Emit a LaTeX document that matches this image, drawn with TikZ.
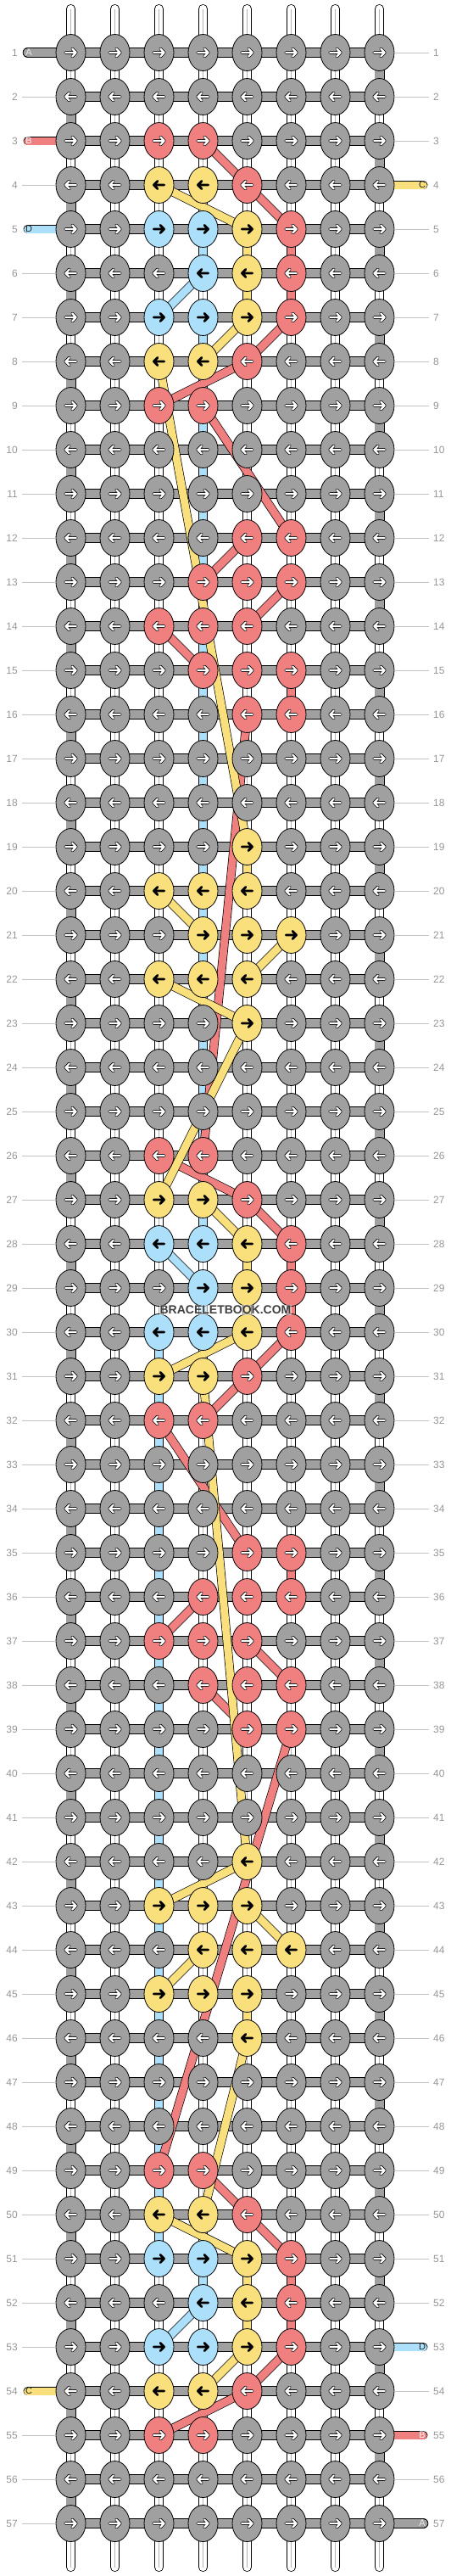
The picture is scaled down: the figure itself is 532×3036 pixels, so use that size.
\documentclass[tikz,border=0pt]{standalone}
\usepackage{fontspec}
\newfontfamily\lblfont{Liberation Sans}
\usetikzlibrary{shapes.geometric}

\definecolor{kgray}{RGB}{160,160,160}
\definecolor{kred}{RGB}{240,128,128}
\definecolor{kyel}{RGB}{250,224,124}
\definecolor{kblue}{RGB}{172,224,250}
\definecolor{lblgray}{RGB}{150,150,150}
\definecolor{linegray}{RGB}{195,195,195}

\pgfdeclarelayer{warps}
\pgfdeclarelayer{wefts}
\pgfdeclarelayer{threads}
\pgfsetlayers{warps,wefts,threads,main}

\tikzset{
 knot/.style={ellipse, draw=black, line width=0.8pt, minimum width=35pt, minimum height=43pt, inner sep=0pt},
 knotG/.style={knot, fill=kgray},
 knotR/.style={knot, fill=kred},
 knotY/.style={knot, fill=kyel},
 knotB/.style={knot, fill=kblue},
 arrG/.style={draw=black, double=white, line width=0.75pt, double distance=2.2pt, line cap=round, line join=round},
 arrR/.style={arrG},
 arrY/.style={draw=black, line width=2.8pt, line cap=round, line join=round},
 arrB/.style={arrY},
 warp/.style={draw=black, double=white, line width=0.8pt, double distance=9.4pt, line cap=round},
 warpmid/.style={draw=black!30, line width=0.6pt},
 weft/.style={draw=black, double=kgray, line width=0.8pt, double distance=10.4pt},
 redthread/.style={draw=black, double=kred, line width=0.7pt, double distance=9pt, line join=round},
 yelthread/.style={draw=black, double=kyel, line width=0.7pt, double distance=9pt, line join=round},
 bluthread/.style={draw=black, double=kblue, line width=0.7pt, double distance=9pt, line join=round},
 rowlbl/.style={font=\lblfont\fontsize{12}{14}\selectfont, text=lblgray, inner sep=0pt},
 rowline/.style={draw=linegray, line width=0.8pt},
 endlbl/.style={font=\lblfont\fontsize{11}{13}\selectfont, inner sep=0pt},
 wmark/.style={font=\lblfont\bfseries\fontsize{14}{16}\selectfont, text=black!75, fill=white, fill opacity=0.5, text opacity=1, inner sep=1pt}
}

\begin{document}
\begin{tikzpicture}[x=1pt, y=-1pt]
\useasboundingbox (0,0) rectangle (532,3036);

% colour of the knots: heart motif, red and yellow diamonds
\foreach \b in {3,26,49}{
  \foreach \d/\c/\k in {0/3/R,0/4/R,1/3/Y,1/4/Y,1/5/R,2/3/B,2/4/B,2/5/Y,2/6/R,3/4/B,3/5/Y,3/6/R,4/3/B,4/4/B,4/5/Y,4/6/R,5/3/Y,5/4/Y,5/5/R,6/3/R,6/4/R}{
    \pgfmathtruncatemacro{\rr}{\b+\d}
    \expandafter\xdef\csname kc-\rr-\c\endcsname{\k}
  }
}
\foreach \b in {12,35}{
  \foreach \d/\c in {0/5,0/6,1/4,1/5,1/6,2/3,2/4,2/5,3/4,3/5,3/6,4/5,4/6}{
    \pgfmathtruncatemacro{\rr}{\b+\d}
    \expandafter\xdef\csname kc-\rr-\c\endcsname{R}
  }
}
\foreach \b in {19,42}{
  \foreach \d/\c in {0/5,1/3,1/4,1/5,2/4,2/5,2/6,3/3,3/4,3/5,4/5}{
    \pgfmathtruncatemacro{\rr}{\b+\d}
    \expandafter\xdef\csname kc-\rr-\c\endcsname{Y}
  }
}

% knots with their arrows
\foreach \r in {1,...,57}{
  \foreach \c in {1,...,8}{
    \ifcsname kc-\r-\c\endcsname \edef\kk{\csname kc-\r-\c\endcsname}\else \def\kk{G}\fi
    \ifodd\r\relax \def\dr{1}\else \def\dr{-1}\fi
    \pgfmathsetmacro{\px}{83.5+52*(\c-1)}
    \pgfmathsetmacro{\py}{62+52*(\r-1)}
    \edef\knotcmd{\noexpand\node[knot\kk] (k\r-\c) at (\px,\py) {};
      \noexpand\draw[arr\kk] (k\r-\c.center) ++({-6.3*(\dr)},0) -- ++({12.5*(\dr)},0)
        ++({-4.6*(\dr)},-4.6) -- ++({4.6*(\dr)},4.6) -- ++({-4.6*(\dr)},4.6);}
    \knotcmd
  }
}

% row numbers
\foreach \r in {1,...,57}{
  \node[rowlbl, anchor=east] (ll\r) at (21,{62+52*(\r-1)}) {\r};
  \node[rowlbl, anchor=west] (lr\r) at (511,{62+52*(\r-1)}) {\r};
}
\foreach \r in {2,4,6,7,...,53,55,56,57}
  \draw[rowline] ([xshift=5pt]ll\r.east) -- (k\r-1.west);
\foreach \r in {1,2,3,5,6,...,52,54,56}
  \draw[rowline] (k\r-8.east) -- ([xshift=-5pt]lr\r.west);

% loose ends
\coordinate (endA1) at (32.7,62);
\coordinate (endA57) at (499.3,2974);
\coordinate (endB3) at (32.7,166);
\coordinate (endB55) at (499.3,2870);
\coordinate (endC4) at (499.3,218);
\coordinate (endC54) at (32.7,2818);
\coordinate (endD5) at (32.7,270);
\coordinate (endD53) at (499.3,2766);

\node[endlbl, text=black!8] (lA1) at (34,62) {A};
\node[endlbl, text=white] (lB3) at (34,166) {B};
\node[endlbl, text=black!85] (lD5) at (34,270) {D};
\node[endlbl, text=black!85] (lC54) at (34,2818) {C};
\node[endlbl, text=black!85] (lC4) at (498,218) {C};
\node[endlbl, text=black!85] (lD53) at (498,2766) {D};
\node[endlbl, text=white] (lB55) at (498,2870) {B};
\node[endlbl, text=black!8] (lA57) at (498,2974) {A};

% white strands
\begin{pgfonlayer}{warps}
\foreach \c in {1,...,8}{
  \coordinate (wt\c) at ({83.5+52*(\c-1)},10.5);
  \coordinate (wb\c) at ({83.5+52*(\c-1)},3025.5);
  \draw[warp] (wt\c) -- (wb\c);
  \draw[warpmid] (wt\c) -- (wb\c);
}
\end{pgfonlayer}

% strand A
\begin{pgfonlayer}{wefts}
\foreach \r in {1,...,57}
  \draw[weft] (k\r-1.center) -- (k\r-8.center);
\foreach \r [evaluate=\r as \s using int(\r+1)] in {1,3,...,55}
  \draw[weft] (k\r-8.center) -- (k\s-8.center);
\foreach \r [evaluate=\r as \s using int(\r+1)] in {2,4,...,56}
  \draw[weft] (k\r-1.center) -- (k\s-1.center);
\draw[weft, line cap=round] (endA1) -- (k1-1.center);
\draw[weft, line cap=round] (k57-8.center) -- (endA57);
\end{pgfonlayer}

\begin{pgfonlayer}{threads}
% strand D
\draw[bluthread, line cap=round] (endD5) -- (k5-1.center);
\draw[bluthread] (k5-4.center) -- (k6-4.center) -- (k7-3.center);
\draw[bluthread] (k7-4.center) -- (k28-4.center);
\draw[bluthread] (k28-3.center) -- (k29-4.center) -- (k30-4.center);
\draw[bluthread] (k30-3.center) -- (k51-3.center);
\draw[bluthread] (k51-4.center) -- (k52-4.center) -- (k53-3.center);
\draw[bluthread, line cap=round] (k53-8.center) -- (endD53);
% strand B
\draw[redthread, line cap=round] (endB3) -- (k3-1.center);
\draw[redthread] (k3-4.center) -- (k4-5.center) -- (k5-6.center) -- (k6-6.center) -- (k7-6.center) -- (k8-5.center) -- (k9-3.center);
\draw[redthread] (k9-4.center) -- (k12-6.center);
\draw[redthread] (k12-5.center) -- (k13-4.center);
\draw[redthread] (k13-6.center) -- (k14-5.center);
\draw[redthread] (k14-3.center) -- (k15-4.center);
\draw[redthread] (k15-6.center) -- (k16-6.center);
\draw[redthread] (k16-5.center) -- (k26-4.center);
\draw[redthread] (k26-3.center) -- (k27-5.center) -- (k28-6.center) -- (k29-6.center) -- (k30-6.center) -- (k31-5.center) -- (k32-4.center);
\draw[redthread] (k32-3.center) -- (k35-5.center);
\draw[redthread] (k35-6.center) -- (k36-6.center);
\draw[redthread] (k36-4.center) -- (k37-3.center);
\draw[redthread] (k37-5.center) -- (k38-6.center);
\draw[redthread] (k38-4.center) -- (k39-5.center);
\draw[redthread] (k39-6.center) -- (k49-3.center);
\draw[redthread] (k49-4.center) -- (k50-5.center) -- (k51-6.center) -- (k52-6.center) -- (k53-6.center) -- (k54-5.center) -- (k55-3.center);
\draw[redthread, line cap=round] (k55-8.center) -- (endB55);
% strand C
\draw[yelthread, line cap=round] (k4-8.center) -- (endC4);
\draw[yelthread] (k4-3.center) -- (k5-5.center) -- (k6-5.center) -- (k7-5.center) -- (k8-4.center);
\draw[yelthread] (k8-3.center) -- (k19-5.center) -- (k20-5.center);
\draw[yelthread] (k20-3.center) -- (k21-4.center);
\draw[yelthread] (k21-6.center) -- (k22-5.center);
\draw[yelthread] (k22-3.center) -- (k23-5.center) -- (k27-3.center);
\draw[yelthread] (k27-4.center) -- (k28-5.center) -- (k29-5.center) -- (k30-5.center) -- (k31-3.center);
\draw[yelthread] (k31-4.center) -- (k42-5.center) -- (k43-3.center);
\draw[yelthread] (k43-5.center) -- (k44-6.center);
\draw[yelthread] (k44-4.center) -- (k45-3.center);
\draw[yelthread] (k45-5.center) -- (k46-5.center) -- (k50-4.center);
\draw[yelthread] (k50-3.center) -- (k51-5.center) -- (k52-5.center) -- (k53-5.center) -- (k54-4.center);
\draw[yelthread, line cap=round] (endC54) -- (k54-1.center);
\end{pgfonlayer}

\node[wmark] (mark) at (266,1544) {BRACELETBOOK.COM};

\end{tikzpicture}
\end{document}
